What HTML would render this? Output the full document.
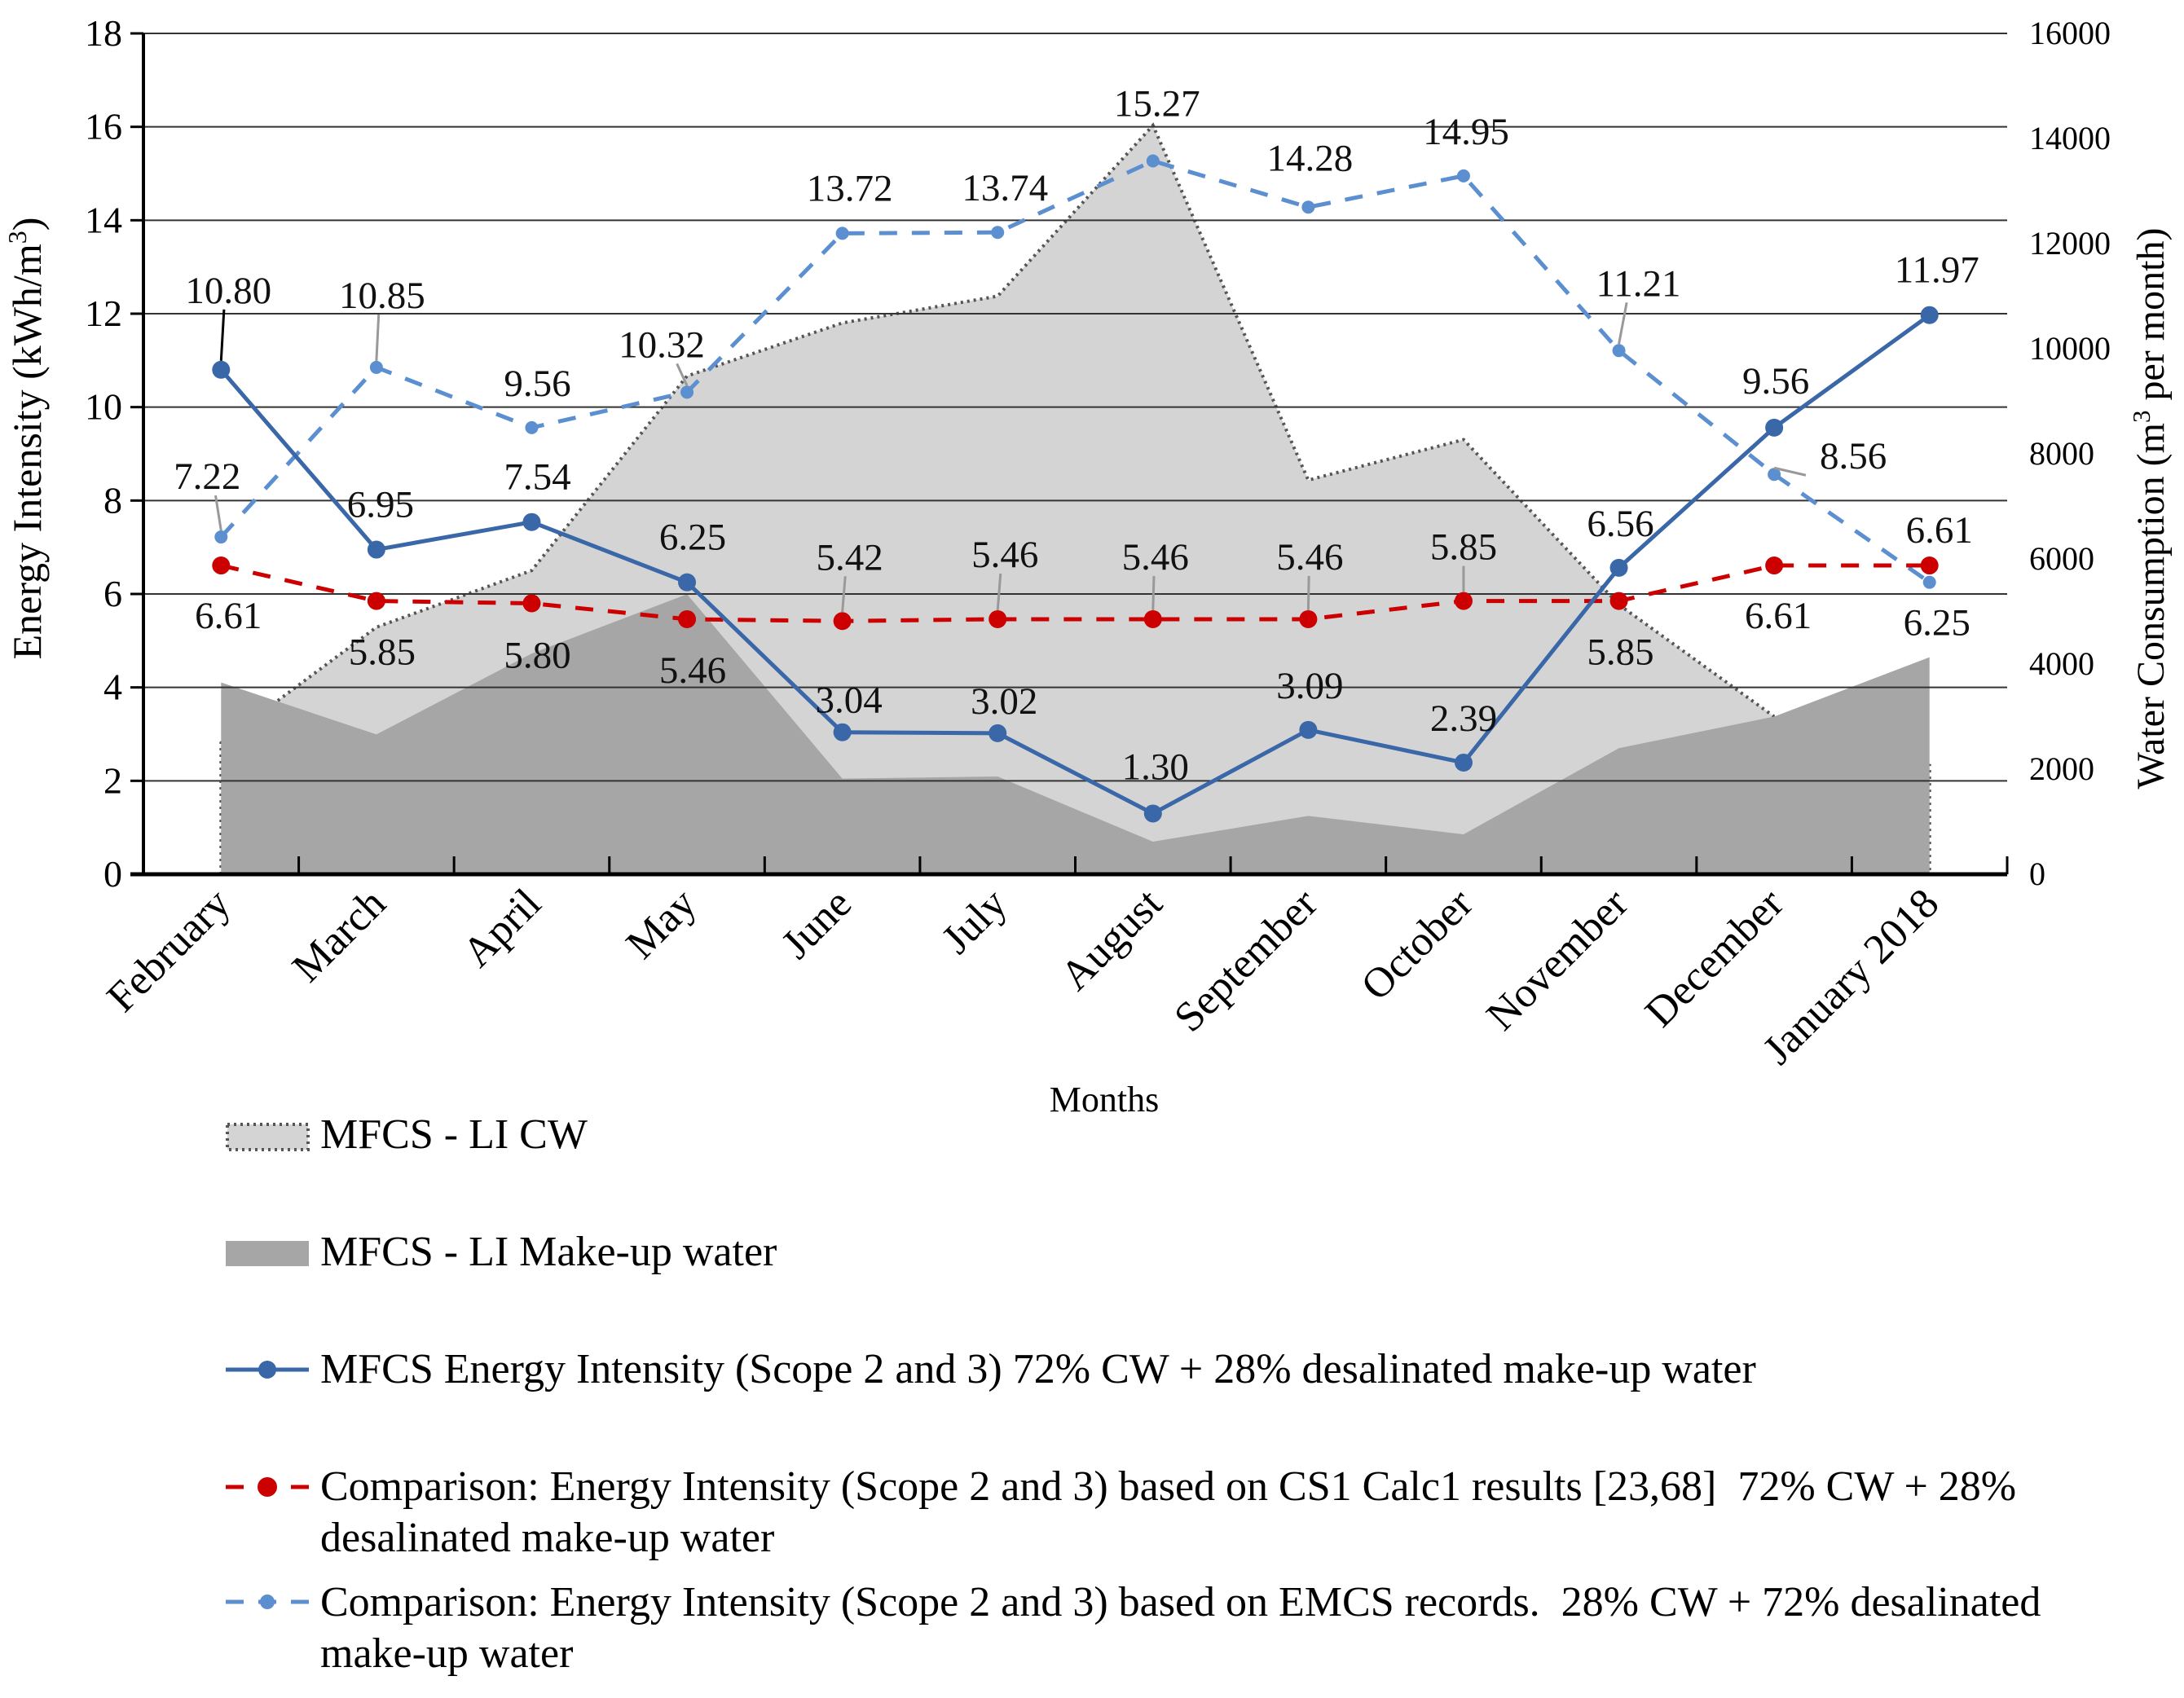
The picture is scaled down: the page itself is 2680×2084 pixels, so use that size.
<!DOCTYPE html>
<html><head><meta charset="utf-8"><style>
html,body{margin:0;padding:0;background:#fff}
svg{display:block;font-family:"Liberation Serif",serif}
</style></head><body>
<svg id="chart" width="2680" height="2084" viewBox="0 0 2680 2084" xmlns="http://www.w3.org/2000/svg">
<g id="plot"></g>
<g id="legend">
  <rect x="279" y="1380" width="99" height="31" fill="#d4d4d4" stroke="#555" stroke-width="4" stroke-dasharray="3,5"/>
  <text x="393" y="1409" font-size="52">MFCS - LI CW</text>
  <rect x="277" y="1523" width="102" height="31" fill="#a6a6a6"/>
  <text x="393" y="1553" font-size="52">MFCS - LI Make-up water</text>
  <line x1="277" y1="1681" x2="379" y2="1681" stroke="#3a67a8" stroke-width="5"/>
  <circle cx="328" cy="1681" r="11" fill="#3a67a8"/>
  <text x="393" y="1697" font-size="52">MFCS Energy Intensity (Scope 2 and 3) 72% CW + 28% desalinated make-up water</text>
  <line x1="277" y1="1825" x2="379" y2="1825" stroke="#cc0000" stroke-width="5" stroke-dasharray="22,18"/>
  <circle cx="328" cy="1825" r="12" fill="#cc0000"/>
  <text x="393" y="1841" font-size="52" xml:space="preserve">Comparison: Energy Intensity (Scope 2 and 3) based on CS1 Calc1 results [23,68]  72% CW + 28%</text>
  <text x="393" y="1904" font-size="52">desalinated make-up water</text>
  <line x1="277" y1="1966" x2="379" y2="1966" stroke="#5b8fd0" stroke-width="5" stroke-dasharray="22,18"/>
  <circle cx="328" cy="1966" r="9" fill="#5b8fd0"/>
  <text x="393" y="1983" font-size="52" xml:space="preserve">Comparison: Energy Intensity (Scope 2 and 3) based on EMCS records.  28% CW + 72% desalinated</text>
  <text x="393" y="2046" font-size="52">make-up water</text>
</g>
</svg>
<script>
const months = ["February","March","April","May","June","July","August","September","October","November","December","January 2018"];
const cwWater = [2500,4700,5780,9480,10490,11000,14250,7500,8270,5130,3000,2070];
const makeupWater = [3650,2660,4200,5330,1820,1860,620,1110,760,2400,3000,4130];
const mfcsIntensity = [10.80,6.95,7.54,6.25,3.04,3.02,1.30,3.09,2.39,6.56,9.56,11.97];
const cs1Intensity = [6.61,5.85,5.80,5.46,5.42,5.46,5.46,5.46,5.85,5.85,6.61,6.61];
const emcsIntensity = [7.22,10.85,9.56,10.32,13.72,13.74,15.27,14.28,14.95,11.21,8.56,6.25];
const leftTicks = [0,2,4,6,8,10,12,14,16,18];
const rightTicks = [0,2000,4000,6000,8000,10000,12000,14000,16000];
// label placement offsets (px, relative to point)
const mfcsLabelOff = [[9,-98,1],[5,-56,0],[7,-56,0],[7,-56,0],[8,-40,0],[8,-40,0],[3,-58,0],[2,-55,0],[0,-55,0],[2,-55,0],[2,-58,0],[9,-56,0]];
const cs1LabelOff = [[9,61,0],[7,62,0],[7,63,0],[7,62,0],[9,-79,1],[9,-80,1],[3,-77,1],[2,-77,1],[0,-67,1],[2,62,0],[5,61,0],[12,-44,0]];
const emcsLabelOff = [[-17,-75,1],[7,-89,1],[7,-55,0],[-31,-59,1],[9,-56,0],[9,-55,0],[5,-71,0],[2,-61,0],[3,-55,0],[24,-83,1],[97,-23,1],[9,49,0]];

const NS="http://www.w3.org/2000/svg";
const X0=176, X1=2463, Y0=1073, Y1=41;
const bw=(X1-X0)/months.length;
const xc=i=>X0+bw*(i+0.5);
const yL=v=>Y0-(v/18)*(Y0-Y1);
const yR=v=>Y0-(v/16000)*(Y0-Y1);
const plot=document.getElementById('plot');
function mk(tag,attrs,parent){const e=document.createElementNS(NS,tag);for(const k in attrs)e.setAttribute(k,attrs[k]);(parent||plot).appendChild(e);return e;}

let d="M"+xc(0)+","+Y0;
cwWater.forEach((v,i)=>{d+=" L"+xc(i)+","+yR(v);});
d+=" L"+xc(11)+","+Y0+" Z";
let a=mk('path',{d:d,fill:'#d4d4d4'});


let d2="M"+xc(0)+","+Y0;
makeupWater.forEach((v,i)=>{d2+=" L"+xc(i)+","+yR(v);});
d2+=" L"+xc(11)+","+Y0+" Z";
let a2=mk('path',{d:d2,fill:'#a6a6a6'});



leftTicks.forEach(t=>{
  if(t>0){let g=mk('line',{x1:X0,x2:X1,y1:yL(t),y2:yL(t),stroke:'#333','stroke-width':2});
  
  }
  let tk=mk('line',{x1:160,x2:X0,y1:yL(t),y2:yL(t),stroke:'#000','stroke-width':3});
  
  
  let tx=mk('text',{x:150,y:yL(t)+15,'font-size':46,'text-anchor':'end'});
  tx.textContent=t;
  
  
});
rightTicks.forEach(t=>{
  let tx=mk('text',{x:2490,y:yR(t)+13,'font-size':40});
  tx.textContent=t;
  
  
});
let dd="M"+xc(0)+","+Y0;
cwWater.forEach((v,i)=>{dd+=" L"+xc(i)+","+yR(v);});
dd+=" L"+xc(11)+","+Y0;
let o=mk('path',{d:dd,fill:'none',stroke:'#555','stroke-width':4,'stroke-dasharray':'3,5'});


plot.insertBefore(o,a2);

let ax=mk('line',{x1:X0,x2:X0,y1:Y1,y2:Y0,stroke:'#000','stroke-width':4});


let bx=mk('line',{x1:160,x2:X1,y1:Y0,y2:Y0,stroke:'#000','stroke-width':5});


let rx=mk('line',{x1:X1,x2:X1,y1:Y0-22,y2:Y0,stroke:'#000','stroke-width':3});


for(let i=1;i<months.length;i++){
  let t=mk('line',{x1:X0+bw*i,x2:X0+bw*i,y1:Y0-22,y2:Y0,stroke:'#000','stroke-width':3});
  
  
}
months.forEach((m,i)=>{
  let tx=mk('text',{x:xc(i)+14,y:1112,'font-size':52,'text-anchor':'end',transform:`rotate(-45 ${xc(i)+14} 1112)`});
  tx.textContent=m;
  
  
});
let xt=mk('text',{x:1355,y:1364,'font-size':44,'text-anchor':'middle'});
xt.textContent='Months';


let lt=mk('text',{x:50,y:538,'font-size':50,'text-anchor':'middle',transform:'rotate(-90 50 538)'});
lt.innerHTML='Energy Intensity (kWh/m<tspan font-size="32" dy="-18">3</tspan><tspan dy="18">)</tspan>';


let rt=mk('text',{x:2655,y:624,'font-size':48,'text-anchor':'middle',transform:'rotate(-90 2655 624)'});
rt.innerHTML='Water Consumption (m<tspan font-size="31" dy="-17">3</tspan><tspan dy="17"> per month)</tspan>';



function series(vals,color,dash,r,name,offs,leaderColor){
  let p=vals.map((v,i)=>xc(i)+","+yL(v)).join(" ");
  let l=mk('polyline',{points:p,fill:'none',stroke:color,'stroke-width':5});
  if(dash)l.setAttribute('stroke-dasharray',dash);
  
  
  vals.forEach((v,i)=>{
    let c=mk('circle',{cx:xc(i),cy:yL(v),r:r,fill:color});
    
    
  });
  vals.forEach((v,i)=>{
    const [dx,dy,lead]=offs[i];
    const lx=xc(i)+dx, ly=yL(v)+dy;
    if(lead){
      let ln=mk('line',{x1:xc(i)+dx*0.4,y1:ly+(dy<0?24:-24),x2:xc(i),y2:yL(v)+(dy<0?-r:r),stroke:leaderColor,'stroke-width':3});
      
      
    }
    let t=mk('text',{x:lx,y:ly+16,'font-size':47,'text-anchor':'middle',fill:'#111'});
    t.textContent=v.toFixed(2);
    
    
  });
}
series(emcsIntensity,'#5b8fd0','22,18',8,'emcs',emcsLabelOff,'#999');
series(cs1Intensity,'#cc0000','22,18',11,'cs1',cs1LabelOff,'#999');
series(mfcsIntensity,'#3a67a8',null,11,'mfcs',mfcsLabelOff,'#000');
</script>
</body></html>
